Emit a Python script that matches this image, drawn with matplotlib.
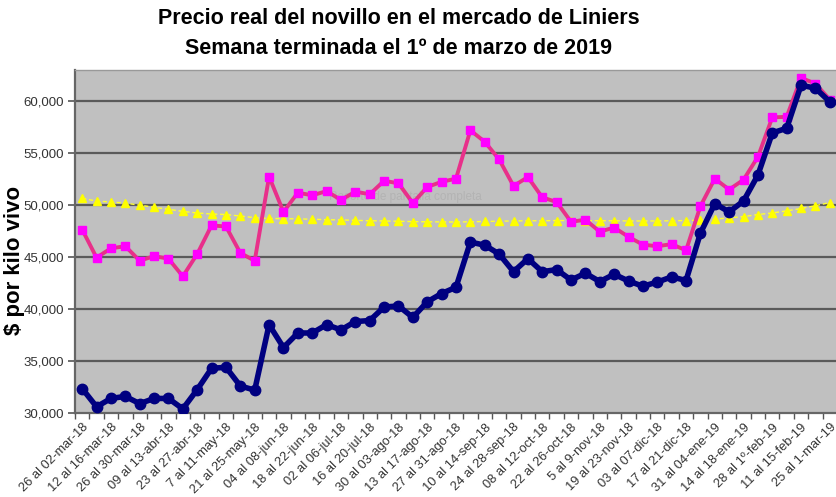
import matplotlib
matplotlib.use("Agg")
import matplotlib.pyplot as plt
import numpy as np
from matplotlib.ticker import FuncFormatter, FixedLocator

plt.rcParams['font.family'] = ['Liberation Sans', 'DejaVu Sans']

weeks_labels = [
    "26 al 02-mar-18", "12 al 16-mar-18", "26 al 30-mar-18", "09 al 13-abr-18",
    "23 al 27-abr-18", "7 al 11-may-18", "21 al 25-may-18", "04 al 08-jun-18",
    "18 al 22-jun-18", "02 al 06-jul-18", "16 al 20-jul-18", "30 al 03-ago-18",
    "13 al 17-ago-18", "27 al 31-ago-18", "10 al 14-sep-18", "24 al 28-sep-18",
    "08 al 12-oct-18", "22 al 26-oct-18", "5 al 9-nov-18", "19 al 23-nov-18",
    "03 al 07-dic-18", "17 al 21-dic-18", "31 al 04-ene-19", "14 al 18-ene-19",
    "28 al 1º-feb-19", "11 al 15-feb-19", "25 al 1-mar-19",
]

serie_azul = [
    32350, 30600, 31400, 31600, 30900, 31400, 31400, 30400, 32250, 34300,
    34400, 32600, 32200, 38500, 36300, 37700, 37700, 38500, 38000, 38800,
    38900, 40200, 40300, 39200, 40700, 41500, 42100, 46450, 46150, 45300,
    43600, 44850, 43600, 43800, 42800, 43450, 42650, 43350, 42700, 42200,
    42600, 43100, 42750, 47300, 50150, 49350, 50400, 52900, 56950, 57400,
    61550, 61250, 59950,
]

serie_rosa = [
    47650, 44950, 45850, 46050, 44650, 45100, 44850, 43150, 45300, 48050,
    47950, 45400, 44650, 52750, 49350, 51200, 50950, 51350, 50500, 51300,
    51050, 52350, 52100, 50200, 51750, 52250, 52550, 57200, 56100, 54400,
    51850, 52700, 50750, 50300, 48400, 48600, 47450, 47850, 46950, 46200,
    46050, 46250, 45650, 49900, 52550, 51500, 52450, 54650, 58450, 58500,
    62250, 61700, 60150,
]

serie_amarilla = [
    50650, 50400, 50300, 50200, 50000, 49800, 49600, 49400, 49250, 49150,
    49100, 48950, 48800, 48720, 48700, 48680, 48650, 48600, 48580, 48540,
    48500, 48480, 48450, 48420, 48400, 48390, 48380, 48400, 48430, 48460,
    48480, 48500, 48500, 48520, 48520, 48520, 48500, 48500, 48480, 48480,
    48480, 48500, 48520, 48560, 48650, 48780, 48900, 49100, 49250, 49450,
    49680, 49950, 50250,
]

x = np.arange(len(serie_azul))

fig = plt.figure(figsize=(8.37, 4.97), dpi=100)
ax = fig.add_axes([0.0896, 0.169, 0.9104, 0.690])
ax.set_facecolor('#c0c0c0')

for yv in [35000, 40000, 45000, 50000, 55000, 60000]:
    ax.axhline(yv, color='#5a5a5a', lw=1.6, zorder=1)

ax.plot(x, serie_amarilla, color='#ffff33', lw=1.0, ls=(0, (3, 2)),
        marker='^', ms=5.5, mfc='#ffff00', mec='#ffff00', zorder=2)
ax.plot(x, serie_rosa, color='#e8308a', lw=2.8, marker='s', ms=5.5,
        mfc='#ff00ff', mec='#ff00ff', zorder=3)
ax.plot(x, serie_azul, color='#000080', lw=4.0, marker='o', ms=7.5,
        mfc='#000080', mec='#000080', zorder=4)

ax.text(22.5, 50800, "Recorte de pantalla completa", color='#b3b3b3',
        fontsize=8.5, ha='center', va='center', zorder=2)

ax.set_xlim(-0.5, len(x) - 0.5)
ax.set_ylim(30000, 63000)

ax.set_yticks([30000, 35000, 40000, 45000, 50000, 55000, 60000])
ax.yaxis.set_major_formatter(FuncFormatter(lambda v, p: f"{int(v):,}"))
ax.tick_params(axis='y', labelsize=9.5, labelcolor='#333333', color='#555555',
               length=5, width=1.2, pad=3)

ax.set_xticks(np.arange(0, len(x), 2))
ax.set_xticklabels(weeks_labels, rotation=45, ha='right', rotation_mode='anchor',
                   fontsize=9.3, color='#333333')
ax.tick_params(axis='x', which='major', length=0, pad=6)
ax.xaxis.set_minor_locator(FixedLocator(np.arange(-0.5, len(x), 1.0)))
ax.tick_params(axis='x', which='minor', length=4, width=1.0, color='#555555')

for s in ['left', 'bottom']:
    ax.spines[s].set_color('#666666')
    ax.spines[s].set_linewidth(1.6)
ax.spines['top'].set_color('#999999')
ax.spines['top'].set_linewidth(1.0)
ax.spines['right'].set_visible(False)

fig.text(15 / 837, 1 - 260 / 497, "$ por kilo vivo", rotation=90,
         ha='center', va='center', fontsize=16, fontweight='bold')

fig.text(0.476, 0.963, "Precio real del novillo en el mercado de Liniers",
         ha='center', va='center', fontsize=15.5, fontweight='bold')
fig.text(0.476, 0.903, "Semana terminada el 1º de marzo de 2019",
         ha='center', va='center', fontsize=15.5, fontweight='bold')

fig.savefig("out.png", dpi=100)
